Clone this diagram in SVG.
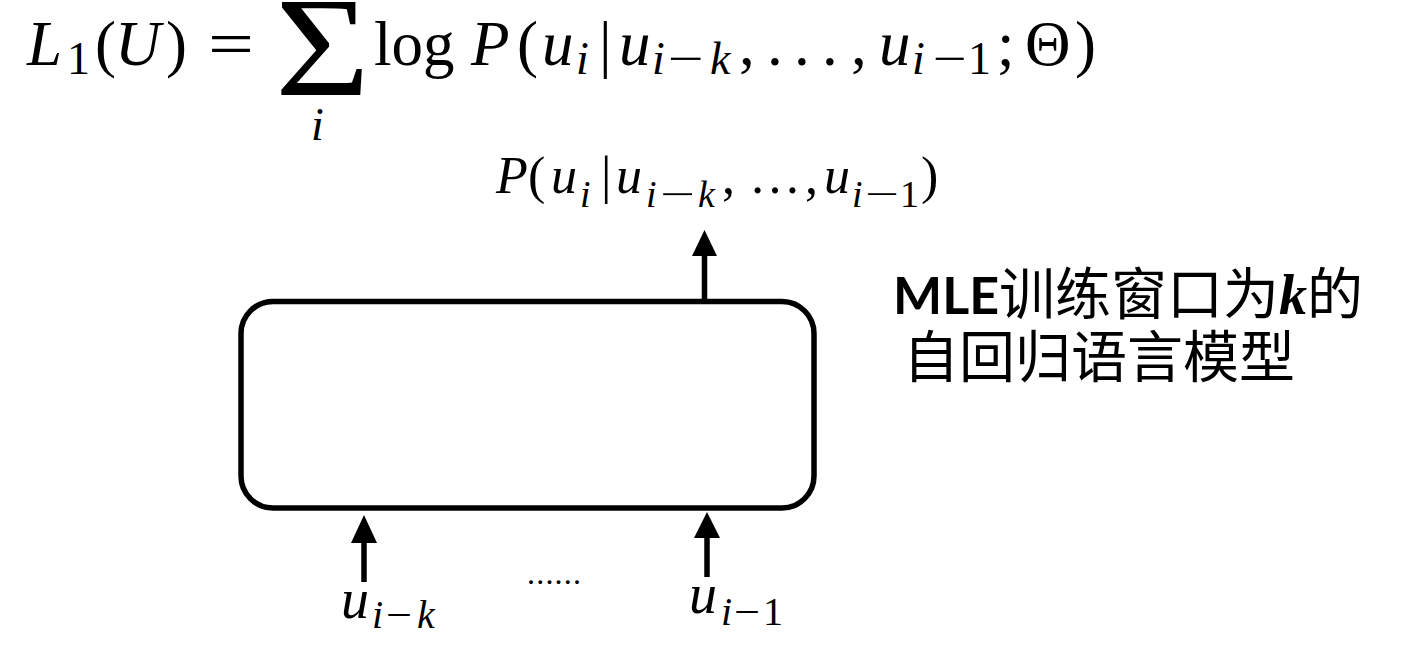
<svg xmlns="http://www.w3.org/2000/svg" width="1415" height="663" viewBox="0 0 1415 663">
<style>
.cm{font-family:"Liberation Serif","DejaVu Serif",serif;fill:#000}
.it{font-style:italic}
.f1{font-size:63px}
.s1{font-size:46px}
.f2{font-size:52px}
.s2{font-size:38px}
.f3{font-size:56px}
.s3{font-size:40px}
.cjk{font-family:"Noto Sans CJK SC","Noto Sans",sans-serif;fill:#000}
.conn{stroke:#000;stroke-width:5.5;fill:none}
.head{fill:#000}
</style>
<rect width="1415" height="663" fill="#fff"/>

<g id="formula">
<text class="cm it f1" x="27" y="65">L</text>
<text class="cm s1" x="67" y="74">1</text>
<text class="cm f1" x="95" y="65">(</text>
<text class="cm it f1" x="115" y="65">U</text>
<text class="cm f1" x="166" y="65">)</text>
<text class="cm f1" x="208" y="65" textLength="46" lengthAdjust="spacingAndGlyphs">=</text>
<text class="cm" transform="translate(275,95) scale(1.2,1.05)" font-size="136">Σ</text>
<text class="cm it s1" x="311" y="140">i</text>
<text class="cm f1" x="374" y="65">log</text>
<text class="cm it f1" x="471" y="65">P</text>
<text class="cm f1" x="517" y="65">(</text>
<text class="cm it f1" x="542" y="65">u</text>
<text class="cm it s1" x="576" y="74">i</text>
<text class="cm f1" x="599" y="65">|</text>
<text class="cm it f1" x="619" y="65">u</text>
<text class="cm it s1" x="652" y="74">i</text>
<text class="cm s1" x="668" y="74" textLength="36" lengthAdjust="spacingAndGlyphs">−</text>
<text class="cm it s1" x="710" y="74">k</text>
<text class="cm f1" x="739" y="65">,</text>
<text class="cm f1" x="767" y="65">.</text>
<text class="cm f1" x="794" y="65">.</text>
<text class="cm f1" x="822" y="65">.</text>
<text class="cm f1" x="851" y="65">,</text>
<text class="cm it f1" x="879" y="65">u</text>
<text class="cm it s1" x="912" y="74">i</text>
<text class="cm s1" x="933" y="74" textLength="34" lengthAdjust="spacingAndGlyphs">−</text>
<text class="cm s1" x="968" y="74">1</text>
<text class="cm f1" x="997" y="65">;</text>
<text class="cm f1" x="1025" y="65">Θ</text>
<text class="cm f1" x="1075" y="65">)</text>
</g>

<g id="output-label">
<text class="cm it f2" x="496" y="193">P</text>
<text class="cm f2" x="528" y="193">(</text>
<text class="cm it f2" x="551" y="193">u</text>
<text class="cm it s2" x="580" y="207">i</text>
<text class="cm f2" x="601" y="193">|</text>
<text class="cm it f2" x="616" y="193">u</text>
<text class="cm it s2" x="646" y="207">i</text>
<text class="cm s2" x="660" y="207" textLength="35" lengthAdjust="spacingAndGlyphs">−</text>
<text class="cm it s2" x="698" y="207">k</text>
<text class="cm f2" x="722" y="193">,</text>
<text class="cm f2" x="749" y="193" textLength="52" lengthAdjust="spacingAndGlyphs">…</text>
<text class="cm f2" x="805" y="193">,</text>
<text class="cm it f2" x="824" y="193">u</text>
<text class="cm it s2" x="852" y="207">i</text>
<text class="cm s2" x="865" y="207" textLength="34" lengthAdjust="spacingAndGlyphs">−</text>
<text class="cm s2" x="900" y="207">1</text>
<text class="cm f2" x="921" y="193">)</text>
</g>

<g id="model">
<rect x="241" y="301.5" width="573" height="206.5" rx="32" ry="32" fill="#fff" stroke="#000" stroke-width="5.5"/>
</g>

<g id="caption">
<text class="cjk" x="893" y="314" font-size="56"><tspan font-family="Lato,'Open Sans',sans-serif" font-weight="bold" font-size="52">MLE</tspan>训练窗口为<tspan font-family="'Liberation Serif',serif" font-weight="bold" font-style="italic">k</tspan>的</text>
<text class="cjk" x="903" y="377" font-size="56">自回归语言模型</text>
</g>

<g id="inputs">
<text class="cm it f3" x="341" y="618">u</text>
<text class="cm it s3" x="372" y="628">i</text>
<text class="cm s3" x="386" y="628" textLength="26" lengthAdjust="spacingAndGlyphs">−</text>
<text class="cm it s3" x="417" y="628">k</text>
<text class="cm" x="527" y="584" font-size="32" textLength="54" lengthAdjust="spacing">......</text>
<text class="cm it f3" x="689" y="613">u</text>
<text class="cm it s3" x="721" y="625">i</text>
<text class="cm s3" x="734" y="625" textLength="26" lengthAdjust="spacingAndGlyphs">−</text>
<text class="cm s3" x="763" y="625">1</text>
</g>

<g id="connectors">
<path class="conn" d="M704.5,301 L704.5,252"/>
<path class="head" d="M692,256 L704.5,230 L717,256 Z"/>
<path class="conn" d="M364,582 L364,540"/>
<path class="head" d="M351,543 L364,515 L377,543 Z"/>
<path class="conn" d="M707,577 L707,535"/>
<path class="head" d="M694,538 L707,512 L720,538 Z"/>
</g>
</svg>
